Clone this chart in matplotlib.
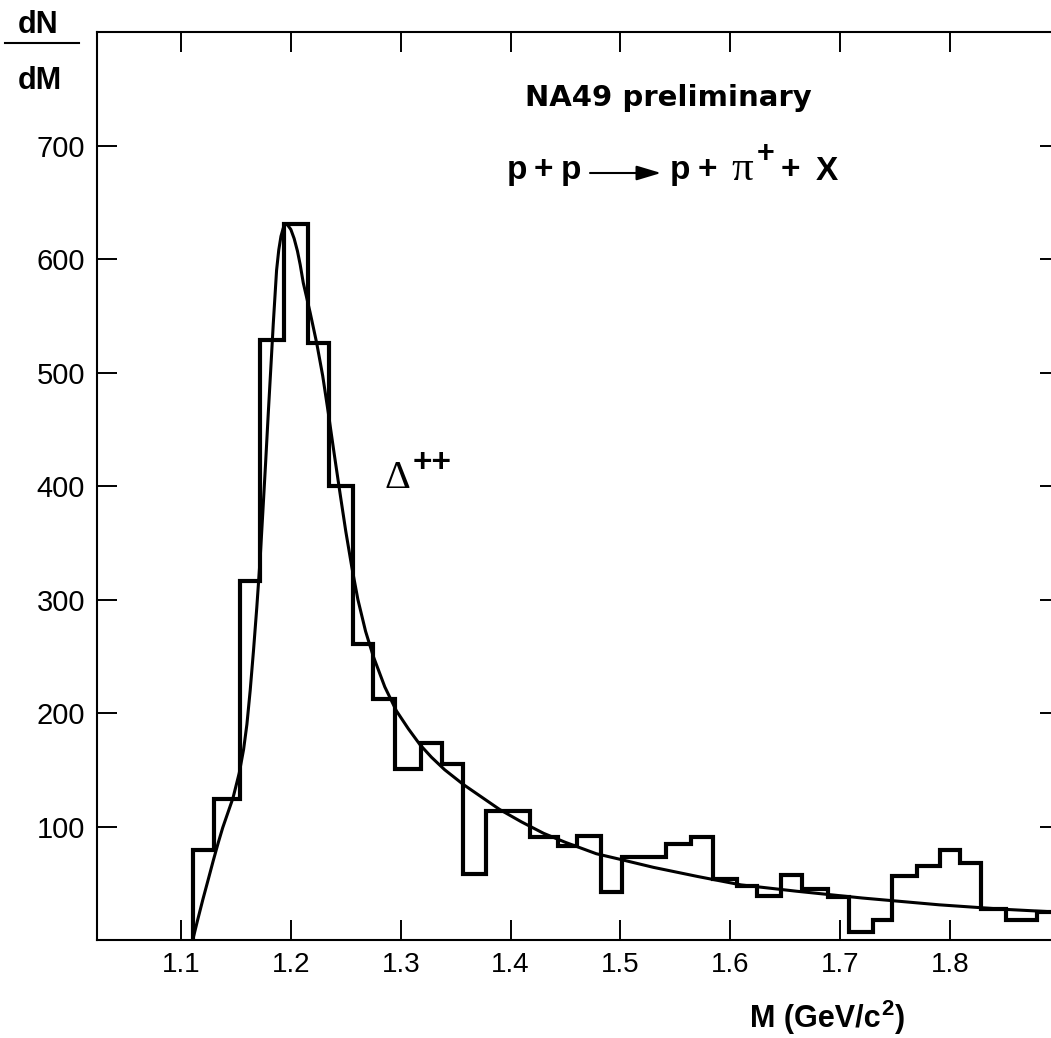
import matplotlib
matplotlib.use("Agg")
import matplotlib.pyplot as plt
from matplotlib.patches import FancyArrowPatch
from matplotlib.lines import Line2D

# ---- data ----
bin_edges = [1.1107, 1.1303, 1.1537, 1.1719, 1.1938, 1.2156, 1.2347, 1.2563, 1.2750, 1.2948,
             1.3182, 1.3373, 1.3564, 1.3774, 1.3977, 1.4177, 1.4434, 1.4602, 1.4820, 1.5014,
             1.5214, 1.5415, 1.5642, 1.5843, 1.6061, 1.6243, 1.6461, 1.6653, 1.6890, 1.7081,
             1.7299, 1.7472, 1.7700, 1.7909, 1.8091, 1.8282, 1.8510, 1.8792, 1.9100]
counts = [79, 124, 316, 529, 631, 526, 400, 261, 212, 151,
          174, 155, 58, 114, 114, 91, 83, 92, 42, 73,
          73, 85, 91, 54, 48, 39, 57, 45, 38, 7,
          18, 56, 65, 79, 68, 27, 18, 25]

fit_mass = [1.1107, 1.115, 1.120, 1.125, 1.1294, 1.134, 1.138, 1.143, 1.1473, 1.153,
            1.157, 1.160, 1.163, 1.166, 1.169, 1.172, 1.1745, 1.177, 1.1795, 1.182,
            1.184, 1.187, 1.189, 1.191, 1.193, 1.195, 1.197, 1.200, 1.203, 1.206,
            1.2085, 1.2113, 1.2175, 1.2235, 1.229, 1.234, 1.2395, 1.245, 1.250, 1.2554,
            1.261, 1.268, 1.275, 1.2855, 1.296, 1.307, 1.3176, 1.328, 1.340, 1.357,
            1.375, 1.390, 1.410, 1.430, 1.450, 1.478, 1.500, 1.530, 1.570, 1.610,
            1.660, 1.720, 1.790, 1.850, 1.910]
fit_dndm = [0, 17, 36, 54, 70, 86, 99, 113, 125, 147,
            168, 190, 220, 255, 293, 335, 377, 420, 465, 508,
            543, 590, 608, 620, 627, 631, 630, 626, 618, 607,
            595, 579, 553, 526, 497, 465, 428, 392, 360, 329,
            300, 272, 250, 223, 202, 186, 172, 161, 150, 137,
            125, 115, 104, 94, 86, 76, 71, 64, 56, 48.5,
            43, 37, 31, 27, 24]

x_ticks = [1.1, 1.2, 1.3, 1.4, 1.5, 1.6, 1.7, 1.8]
x_tick_labels = ["1.1", "1.2", "1.3", "1.4", "1.5", "1.6", "1.7", "1.8"]
y_ticks = [100, 200, 300, 400, 500, 600, 700]
y_tick_labels = ["100", "200", "300", "400", "500", "600", "700"]

# ---- figure ----
W, H = 1051, 1038
fig = plt.figure(figsize=(W / 100, H / 100), dpi=100)
fig.patch.set_facecolor("white")

def fx(px):
    return px / W

def fy(py):
    return 1 - py / H

left, right, top, bottom = 96.7, 1060.0, 32.0, 940.0
ax = fig.add_axes([fx(left), fy(bottom), (right - left) / W, (bottom - top) / H])

ax.stairs(counts, bin_edges, baseline=0, color="black", lw=3.0)
ax.plot(fit_mass, fit_dndm, color="black", lw=2.2, solid_capstyle="butt",
        solid_joinstyle="round")

ax.set_xlim(1.0233, 1.9)
ax.set_ylim(0, 800)
ax.set_xticks(x_ticks)
ax.set_xticklabels(x_tick_labels, family="Liberation Sans", fontsize=20)
ax.set_yticks(y_ticks)
ax.set_yticklabels(y_tick_labels, family="Liberation Sans", fontsize=21)
ax.tick_params(direction="in", length=14.4, width=1.4, top=True, right=True,
               labeltop=False, labelright=False, color="black")
ax.tick_params(axis="x", pad=8.5)
ax.tick_params(axis="y", pad=8.5)
for sp in ax.spines.values():
    sp.set_linewidth(1.5)

renderer = fig.canvas.get_renderer()
bold = dict(family="Liberation Sans", weight="bold", color="black")

# dN / dM
fig.text(fx(38), fy(33), "dN", ha="center", va="baseline", fontsize=22, **bold)
fig.add_artist(Line2D([fx(5), fx(79)], [fy(43), fy(43)], lw=1.5, color="black",
                      transform=fig.transFigure))
fig.text(fx(40), fy(89), "dM", ha="center", va="baseline", fontsize=22, **bold)

# NA49 preliminary
fig.text(fx(668), fy(106.5), "NA49 preliminary", ha="center", va="baseline",
         fontsize=21, family="DejaVu Sans", weight="bold")

# reaction: p + p --> p + pi+ + X
base = 179
eq = 24
fig.text(fx(507), fy(base), "p", ha="left", va="baseline", fontsize=eq, **bold)
fig.text(fx(534), fy(base), "+", ha="left", va="baseline", fontsize=eq, **bold)
fig.text(fx(561), fy(base), "p", ha="left", va="baseline", fontsize=eq, **bold)
fig.add_artist(FancyArrowPatch((fx(590), fy(173)), (fx(661), fy(173)),
                               transform=fig.transFigure,
                               arrowstyle="-|>,head_length=1.0,head_width=0.3",
                               mutation_scale=15, lw=1.5, color="black",
                               shrinkA=0, shrinkB=0))
fig.text(fx(670), fy(base), "p", ha="left", va="baseline", fontsize=eq, **bold)
fig.text(fx(698), fy(base), "+", ha="left", va="baseline", fontsize=eq, **bold)
fig.text(fx(731), fy(base + 1), "\u03c0", ha="left", va="baseline", fontsize=31,
         family="Liberation Serif", color="black")
fig.text(fx(757), fy(162), "+", ha="left", va="baseline", fontsize=22, **bold)
fig.text(fx(781), fy(base), "+", ha="left", va="baseline", fontsize=eq, **bold)
fig.text(fx(816), fy(base + 1), "X", ha="left", va="baseline", fontsize=eq, **bold)

# Delta++
fig.text(fx(385), fy(487.5), "\u0394", ha="left", va="baseline", fontsize=29,
         family="Liberation Serif", color="black")
fig.text(fx(413), fy(472), "++", ha="left", va="baseline", fontsize=24, **bold)

# x label M (GeV/c^2)
t1 = fig.text(fx(750), fy(1027), "M (GeV/c", ha="left", va="baseline", fontsize=22, **bold)
bb = t1.get_window_extent(renderer)
t2 = fig.text(fx(bb.x1 + 1), fy(1015), "2", ha="left", va="baseline", fontsize=16, **bold)
bb2 = t2.get_window_extent(renderer)
fig.text(fx(bb2.x1 + 0.5), fy(1027), ")", ha="left", va="baseline", fontsize=22, **bold)

fig.savefig("out.png", dpi=100, facecolor="white")
